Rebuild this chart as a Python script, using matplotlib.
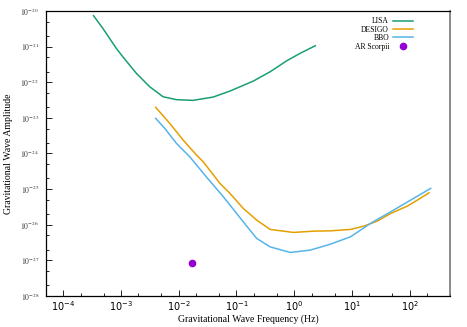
import matplotlib
matplotlib.use("Agg")
import matplotlib.pyplot as plt
from matplotlib.ticker import LogLocator, FuncFormatter, NullFormatter
import numpy as np

lisa_f = [3.33e-4, 4.82e-4, 8.26e-4, 1.07e-3, 1.84e-3, 3.13e-3, 5.33e-3, 9.12e-3,
          1.77e-2, 3.95e-2, 7.71e-2, 0.196, 0.383, 0.746, 1.27, 2.32]
lisa_h = [7.38e-21, 3.27e-21, 8.95e-22, 5.20e-22, 1.78e-22, 7.48e-23, 3.92e-23, 3.24e-23,
          3.10e-23, 3.84e-23, 5.66e-23, 1.08e-22, 1.97e-22, 4.02e-22, 6.49e-22, 1.06e-21]

desigo_f = [3.98e-3, 6.97e-3, 1.19e-2, 2.03e-2, 2.65e-2, 5.16e-2, 7.71e-2, 0.131,
            0.224, 0.383, 0.973, 2.17, 4.23, 9.42, 16.0, 27.4, 46.8, 91.2, 136, 217]
desigo_h = [1.97e-23, 7.01e-24, 2.38e-24, 9.02e-25, 5.85e-25, 1.45e-25, 7.57e-26,
            2.87e-26, 1.35e-26, 7.38e-27, 6.08e-27, 6.61e-27, 6.75e-27, 7.38e-27, 9.14e-27,
            1.26e-26, 2.07e-26, 3.33e-26, 4.91e-26, 7.87e-26]

bbo_f = [3.98e-3, 5.71e-3, 9.12e-3, 1.55e-2, 3.03e-2, 5.89e-2, 7.71e-2, 0.131, 0.224,
         0.383, 0.851, 1.90, 4.23, 9.42, 21.0, 46.8, 104, 232]
bbo_h = [9.68e-24, 5.07e-24, 1.92e-24, 8.07e-25, 2.17e-25, 6.15e-26, 3.56e-26, 1.21e-26,
         4.12e-27, 2.39e-27, 1.67e-27, 1.94e-27, 2.85e-27, 4.57e-27, 1.09e-26, 2.30e-26,
         4.91e-26, 1.05e-25]

arsco_f = [1.7e-2]
arsco_h = [8.5e-28]

x_major = [1e-4, 1e-3, 1e-2, 1e-1, 1e0, 1e1, 1e2]
y_major = [1e-20, 1e-21, 1e-22, 1e-23, 1e-24, 1e-25, 1e-26, 1e-27, 1e-28]

fig = plt.figure(figsize=(4.67, 3.27), dpi=100)
ax = fig.add_axes([0.0985, 0.0948, 0.865, 0.8716])

ax.plot(lisa_f, lisa_h, color='#1a9e74', lw=1.1, label='LISA')
ax.plot(desigo_f, desigo_h, color='#e69f00', lw=1.1, label='DESIGO')
ax.plot(bbo_f, bbo_h, color='#56b4e9', lw=1.1, label='BBO')
ax.plot(arsco_f, arsco_h, 'o', color='#9400d3', ms=4.5, ls='none', label='AR Scorpii')

ax.set_xscale('log')
ax.set_yscale('log')
ax.set_xlim(5e-5, 500)
ax.set_ylim(1e-28, 1e-20)

ax.set_xticks(x_major)
ax.set_yticks(y_major)
ax.xaxis.set_minor_locator(LogLocator(base=10, subs=[2, 5], numticks=20))
ax.yaxis.set_minor_locator(LogLocator(base=10, subs=[2, 5], numticks=20))
ax.xaxis.set_minor_formatter(NullFormatter())
ax.yaxis.set_minor_formatter(NullFormatter())

def fmt(v, pos):
    return r'$10^{%d}$' % int(round(np.log10(v)))

ax.xaxis.set_major_formatter(FuncFormatter(fmt))
ax.yaxis.set_major_formatter(FuncFormatter(fmt))

ax.tick_params(axis='both', which='both', direction='in', top=False, right=False)
ax.tick_params(axis='both', which='major', length=4, width=0.6)
ax.tick_params(axis='both', which='minor', length=2, width=0.6)
ax.tick_params(axis='x', which='major', labelsize=7, pad=2)
ax.tick_params(axis='y', which='major', labelsize=5.5, pad=5)

for lab in ax.get_xticklabels():
    lab.set_fontfamily('DejaVu Sans')
    lab.set_math_fontfamily('dejavusans')
for lab in ax.get_yticklabels():
    lab.set_fontfamily('Liberation Serif')
    lab.set_math_fontfamily('stix')
    lab.set_color('#333333')

for side in ['top', 'left', 'bottom']:
    ax.spines[side].set_color('black')
    ax.spines[side].set_linewidth(0.9)
ax.spines['right'].set_color('#777777')
ax.spines['right'].set_linewidth(1.2)

ax.set_xlabel('Gravitational Wave Frequency (Hz)', fontfamily='Liberation Serif', fontsize=7, labelpad=1)
ax.set_ylabel('Gravitational Wave Amplitude', fontfamily='Liberation Serif', fontsize=7, labelpad=5)

leg = ax.legend(loc='upper right', frameon=False, markerfirst=False,
                prop={'family': 'Liberation Serif', 'size': 5.5},
                handlelength=2.6, handletextpad=0.5, labelspacing=0.05,
                borderaxespad=0.4, bbox_to_anchor=(0.923, 0.999))
for t in leg.get_texts():
    t.set_ha('right')

fig.savefig('out.png', dpi=100)
